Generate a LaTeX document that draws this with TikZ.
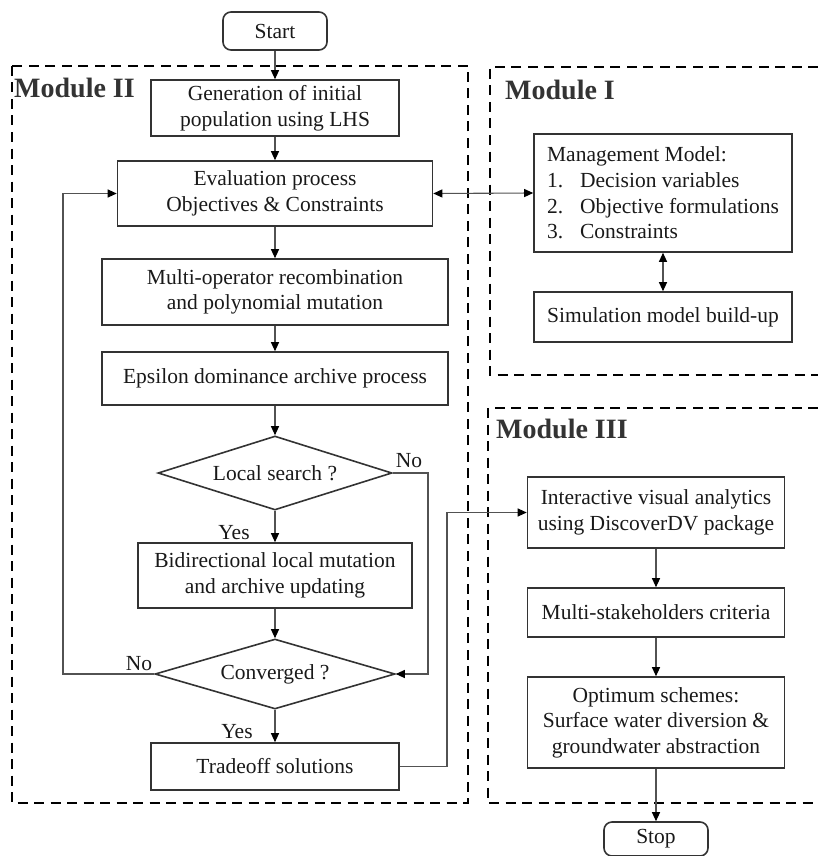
\documentclass[tikz,border=0pt]{standalone}
\usepackage{fontspec}
\setmainfont{Liberation Serif}
\usetikzlibrary{arrows.meta,shapes.geometric}
\begin{document}
\begin{tikzpicture}[x=1pt,y=-1pt,
  every node/.style={font=\fontsize{21.5}{25.6}\selectfont, text=black!90},
  box/.style={draw=black!80, line width=1.6pt, rectangle, inner sep=0pt, align=center},
  term/.style={box, rounded corners=8pt},
  dec/.style={draw=black!80, line width=1.6pt, diamond, shape aspect=3.3, inner sep=0pt},
  conn/.style={draw=black!68, line width=1.1pt},
  arr/.style={conn, -{Triangle[length=9pt,width=8pt,color=black]}},
  darr/.style={conn, {Triangle[length=9pt,width=8pt,color=black]}-{Triangle[length=9pt,width=8pt,color=black]}},
  module/.style={draw=black, line width=2.8pt, dash pattern=on 10pt off 6.5pt},
  modlabel/.style={font=\fontsize{28}{30}\selectfont\bfseries, text=black!80, inner sep=0pt, anchor=west},
  lbl/.style={inner sep=0pt}
]
\useasboundingbox (0,0) rectangle (818,856);

% module frames
\draw[module] (12,66) rectangle (468,803);
\draw[module] (818,67) -- (490,67) -- (490,375) -- (818,375);
\draw[module] (818,408) -- (488,408) -- (488,803) -- (818,803);
\node[modlabel] (m2) at (14,88) {Module II};
\node[modlabel] (m1) at (505,90) {Module I};
\node[modlabel] (m3) at (496,429) {Module III};

% Module II flow
\node[term, minimum width=104pt, minimum height=38pt] (start) at (275,31) {Start};
\node[box, minimum width=248pt, minimum height=56pt] (gen) at (275,108) {Generation of initial\\population using LHS};
\node[box, minimum width=315pt, minimum height=65pt] (eval) at (275,193.5) {Evaluation process\\Objectives \& Constraints};
\node[box, minimum width=346pt, minimum height=66pt] (multi) at (275,292) {Multi-operator recombination\\and polynomial mutation};
\node[box, minimum width=346pt, minimum height=53pt] (eps) at (275,378.5) {Epsilon dominance archive process};
\node[dec, minimum width=234pt, minimum height=74pt] (d1) at (275,473) {Local search ?};
\node[box, minimum width=274pt, minimum height=65pt] (bid) at (275,575.5) {Bidirectional local mutation\\and archive updating};
\node[dec, minimum width=240pt, minimum height=70pt] (d2) at (275,674) {Converged ?};
\node[box, minimum width=248pt, minimum height=47pt] (trade) at (275,766.5) {Tradeoff solutions};

% Module I
\node[box, minimum width=258pt, minimum height=118pt, align=left] (mgmt) at (663,193) {Management Model:\\\makebox[33pt][l]{1.}Decision variables\\\makebox[33pt][l]{2.}Objective formulations\\\makebox[33pt][l]{3.}Constraints};
\node[box, minimum width=258pt, minimum height=50pt] (sim) at (663,317) {Simulation model build-up};

% Module III
\node[box, minimum width=257pt, minimum height=71pt] (inter) at (656,512.5) {Interactive visual analytics\\using DiscoverDV package};
\node[box, minimum width=257pt, minimum height=49pt] (stake) at (656,612.5) {Multi-stakeholders criteria};
\node[box, minimum width=257pt, minimum height=91pt] (opt) at (656,722.5) {Optimum schemes:\\Surface water diversion \&\\groundwater abstraction};
\node[term, minimum width=104pt, minimum height=34pt] (stop) at (656,839) {Stop};

% labels
\node[lbl] (no1) at (409,461) {No};
\node[lbl] (yes1) at (234,533) {Yes};
\node[lbl] (no2) at (139,664) {No};
\node[lbl] (yes2) at (237,732) {Yes};

% connectors
\draw[arr] (start) -- (gen);
\draw[arr] (gen) -- (eval);
\draw[arr] (eval) -- (multi);
\draw[arr] (multi) -- (eps);
\draw[arr] (eps) -- (d1);
\draw[arr] (d1.south) -- (bid);
\draw[arr] (bid) -- (d2.north);
\draw[arr] (d2.south) -- (trade);
\coordinate (nr1) at (428,473);
\coordinate (nr2) at (428,674);
\draw[arr] (d1.east) -- (nr1) -- (nr2) -- (d2.east);
\coordinate (fb1) at (63,674);
\coordinate (fb2) at (63,193.5);
\draw[arr] (d2.west) -- (fb1) -- (fb2) -- (eval.west);
\coordinate (tr1) at (447,766.5);
\coordinate (tr2) at (447,512.5);
\draw[arr] (trade.east) -- (tr1) -- (tr2) -- (inter.west);
\draw[darr] (eval.east) -- (mgmt.west);
\draw[darr] (mgmt.south) -- (sim.north);
\draw[arr] (inter) -- (stake);
\draw[arr] (stake) -- (opt);
\draw[arr] (opt) -- (stop);
\end{tikzpicture}
\end{document}
